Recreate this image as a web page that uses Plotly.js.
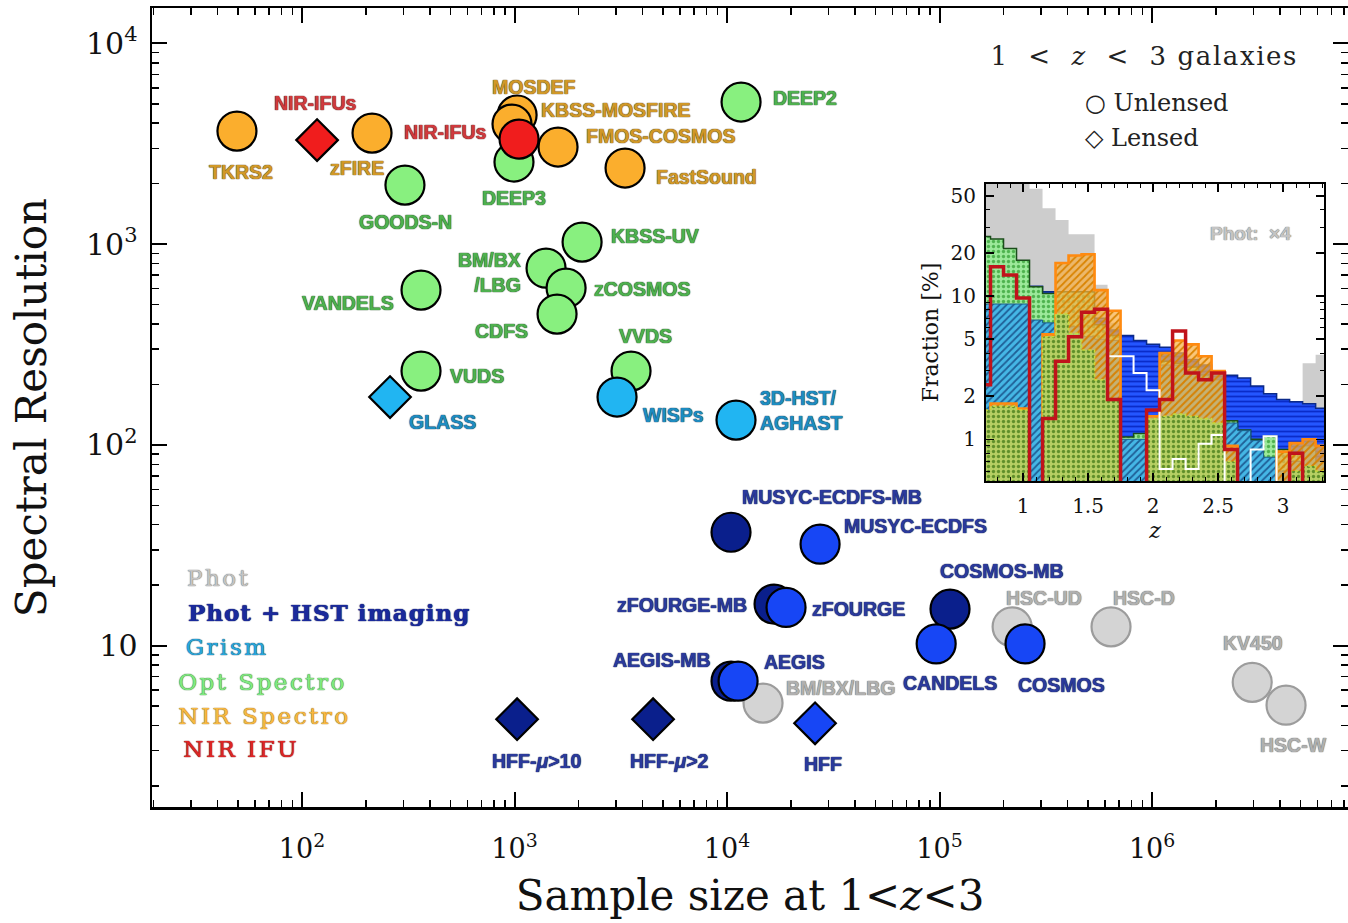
<!DOCTYPE html>
<html><head><meta charset="utf-8">
<script src="https://cdn.plot.ly/plotly-3.0.1.min.js"></script>
<style>body{margin:0;background:#fff}#chart{width:1348px;height:923px}</style>
</head><body><div id="chart"></div>
<script>
// ================= MAIN SCATTER DATA =================
// Phot (grey)
const photLabels = ['BM/BX/LBG','HSC-UD','HSC-D','KV450','HSC-W'];
const photN      = [14770, 219500, 641000, 2960000, 4270000];
const photR      = [5.17, 12.4, 12.4, 6.56, 5.05];
const photLensed = [0,0,0,0,0];
// Phot + HST imaging, medium-band (dark navy)
const hstMBLabels = ['MUSYC-ECDFS-MB','zFOURGE-MB','AEGIS-MB','COSMOS-MB','HFF-<i>μ</i>&gt;10','HFF-<i>μ</i>&gt;2'];
const hstMBN      = [10440, 16640, 10440, 112000, 1028, 4487];
const hstMBR      = [36.7, 16.1, 6.65, 15.2, 4.3, 4.3];
const hstMBLensed = [0,0,0,0,1,1];
// Phot + HST imaging (bright blue)
const hstLabels = ['MUSYC-ECDFS','zFOURGE','AEGIS','CANDELS','COSMOS','HFF'];
const hstN      = [27400, 18950, 11270, 96400, 252500, 25950];
const hstR      = [32.0, 15.5, 6.65, 10.2, 10.2, 4.1];
const hstLensed = [0,0,0,0,0,1];
// Opt Spectro (green)
const optLabels = ['DEEP2','DEEP3','GOODS-N','KBSS-UV','BM/BX<br>/LBG','zCOSMOS','CDFS','VANDELS','VVDS','VUDS'];
const optN      = [11640, 994, 305, 2079, 1407, 1748, 1585, 363, 3533, 363];
const optR      = [5100, 2563, 1968, 1023, 759, 604, 448, 590, 233, 233];
const optLensed = [0,0,0,0,0,0,0,0,0,0];
// NIR Spectro (orange)
const nirLabels = ['TKRS2','zFIRE','MOSDEF','KBSS-MOSFIRE','FMOS-COSMOS','FastSound'];
const nirN      = [49.4, 213.5, 1028, 973, 1602, 3312];
const nirR      = [3656, 3573, 4395, 3963, 3044, 2392];
const nirLensed = [0,0,0,0,0,0];
// Grism (cyan)
const grismLabels = ['GLASS','WISPs','3D-HST/<br>AGHAST'];
const grismN      = [259.5, 3036, 11020];
const grismR      = [173, 173, 132.8];
const grismLensed = [1,0,0];
// NIR IFU (red)
const ifuLabels = ['NIR-IFUs','NIR-IFUs'];
const ifuN      = [117.7, 1050];
const ifuR      = [3296, 3335];
const ifuLensed = [1,0];

// axis ticks
const xTickVals = [100, 1000, 10000, 100000, 1000000];
const xTickText = ['10<sup>2</sup>','10<sup>3</sup>','10<sup>4</sup>','10<sup>5</sup>','10<sup>6</sup>'];
const yTickVals = [10, 100, 1000, 10000];
const yTickText = ['10','10<sup>2</sup>','10<sup>3</sup>','10<sup>4</sup>'];

// ================= INSET HISTOGRAM DATA (fraction %, per dz=0.1 bin) =================
const zBins = [0.7,0.8,0.9,1.0,1.1,1.2,1.3,1.4,1.5,1.6,1.7,1.8,1.9,2.0,2.1,2.2,2.3,2.4,2.5,2.6,2.7,2.8,2.9,3.0,3.1,3.2,3.3];
const fracPhotX4 = [70,70,70,70,56,41,34,27,27,12,6.5,5,4.3,4,3.6,3.3,3.0,2.8,2.6,2.4,2.2,2.0,1.8,1.6,1.5,3.4,3.9];
const fracHST    = [9,10,10,11,11.7,10.7,9.5,9,8.5,7,5.8,5.3,4.9,4.6,4.4,4.0,3.6,3.3,3.0,2.8,2.68,2.36,2.08,1.9,1.83,1.77,1.65];
const fracOpt    = [26,25,21.5,17.8,11.6,10.4,10.7,10.7,10.7,6.3,5.3,1.04,1.1,1.3,3.5,3.4,3.2,2.8,2.5,1.35,1.16,1.0,1.05,0.85,0.8,0.8,0.7];
const fracGrism  = [8.8,8.8,8.8,8.8,6.8,6.5,6.3,6.1,5.2,5.0,4.9,1.0,1.0,1.3,3.3,3.3,3.0,2.8,2.6,1.3,1.15,0.98,0.75,0.6,0.7,0.9,0.7];
const fracNIR    = [1.3,1.78,1.78,1.64,0,5.4,17,19.2,19.6,11,7.9,0,0,1.45,4.0,4.9,4.6,3.8,3.0,0.9,0,0,0,0.82,0.94,1.0,0.9];
const fracOptSub = [1.6,1.7,1.7,1.6,0,5.2,7.5,5.5,4.2,2.6,1.9,0,0,1.4,1.45,1.5,1.45,1.4,1.3,0.7,0,0,0,0,0.6,0.65,0.6];
const fracWhite  = [null,null,null,null,null,null,null,null,null,null,3.8,3.8,2.9,2.2,0.62,0.73,0.62,0.93,1.07,0,0,0.85,1.05,0,null,null,null];
const fracIFU    = [2.4,16,14,9.7,0,1.4,3.5,5.2,7.7,8.1,1.9,0,0,1.6,1.9,5.7,2.9,2.6,2.9,0.85,0,0,0,0,0.8,0,0];
const insetXTicks = [1, 1.5, 2, 2.5, 3];
const insetYTicks = [1, 2, 5, 10, 20, 50];

// ================= LABEL PLACEMENT (pixel offsets: dx right, dy down, anchor) =================
const photPos  = [[21,-15,'left'],[-8,-29,'left'],[0,-29,'left'],[1,-39,'center'],[7,40,'center']];
const hstMBPos = [[9,-35,'left'],[-25,1,'right'],[-18,-21,'right'],[-12,-38,'left'],[19,42,'center'],[16,42,'center']];
const hstPos   = [[22,-18,'left'],[24,2,'left'],[24,-19,'left'],[14,39,'center'],[-9,41,'left'],[8,41,'center']];
const optPos   = [[30,-4,'left'],[0,36,'center'],[1,37,'center'],[27,-6,'left'],[-23,4,'right'],[26,1,'left'],[-27,17,'right'],[-25,13,'right'],[14,-35,'center'],[27,5,'left']];
const nirPos   = [[4,41,'center'],[-15,35,'center'],[17,-28,'center'],[27,-14,'left'],[26,-11,'left'],[29,9,'left']];
const grismPos = [[17,25,'left'],[24,18,'left'],[22,-10,'left']];
const ifuPos   = [[-2,-37,'center'],[-31,-7,'right']];

const groups = [
  {N:photN, R:photR, L:photLabels, lens:photLensed, pos:photPos, fill:'#d4d4d4', edge:'#9c9c9c', txt:'#b0b0b0', sh:'#6e6e6e'},
  {N:hstMBN, R:hstMBR, L:hstMBLabels, lens:hstMBLensed, pos:hstMBPos, fill:'#0a1f8c', edge:'#000000', txt:'#2b3a9c', sh:'#0f1850'},
  {N:hstN, R:hstR, L:hstLabels, lens:hstLensed, pos:hstPos, fill:'#1746f5', edge:'#000000', txt:'#2b3a9c', sh:'#0f1850'},
  {N:optN, R:optR, L:optLabels, lens:optLensed, pos:optPos, fill:'#88f07f', edge:'#000000', txt:'#4fb04f', sh:'#174a17'},
  {N:nirN, R:nirR, L:nirLabels, lens:nirLensed, pos:nirPos, fill:'#fbae2d', edge:'#000000', txt:'#d09828', sh:'#5e400a'},
  {N:grismN, R:grismR, L:grismLabels, lens:grismLensed, pos:grismPos, fill:'#21b5f2', edge:'#000000', txt:'#1e8cc0', sh:'#0b3553'},
  {N:ifuN, R:ifuR, L:ifuLabels, lens:ifuLensed, pos:ifuPos, fill:'#f01d1d', edge:'#000000', txt:'#cf3a3e', sh:'#5e0f0f'}
];

const traces = [];
const annotations = [];
groups.forEach(g => {
  traces.push({
    type:'scatter', mode:'markers', x:g.N, y:g.R, xaxis:'x', yaxis:'y',
    hoverinfo:'skip', showlegend:false,
    marker:{
      symbol:g.lens.map(v => v ? 'diamond' : 'circle'),
      size:g.lens.map(v => v ? 32 : 39),
      color:g.fill, opacity:1,
      line:{color:g.edge, width:2.2}
    }
  });
  g.L.forEach((lab, i) => {
    const p = g.pos[i];
    annotations.push({
      xref:'x', yref:'y', x:Math.log10(g.N[i]), y:Math.log10(g.R[i]),
      text:lab, showarrow:false, xanchor:p[2], yanchor:'middle', align:p[2]==='center'?'center':p[2],
      xshift:p[0], yshift:-p[1],
      font:{family:'Liberation Sans, Arial, sans-serif', size:19.5, weight:700, color:g.txt,
            shadow:`0 0 1px ${g.sh}, 0 0 1px ${g.sh}`}
    });
  });
});

// ---- inset histogram traces ----
const FLOOR = 0.1;
function stepXY(vals, close) {
  const xs = [], ys = [];
  let started = false, firstL = null, lastR = null;
  for (let i = 0; i < zBins.length; i++) {
    const v = vals[i];
    if (v === null) continue;
    const l = zBins[i] - 0.05, r = zBins[i] + 0.05;
    const vv = v > 0 ? v : FLOOR;
    if (!started) { firstL = l; started = true; if (close) { xs.push(l); ys.push(FLOOR); } }
    xs.push(l, r); ys.push(vv, vv);
    lastR = r;
  }
  if (close) { xs.push(lastR, firstL); ys.push(FLOOR, FLOOR); }
  return {xs, ys};
}
function histFill(vals, fill, pat, fg, line, lw, dash) {
  const s = stepXY(vals, true);
  const t = {type:'scatter', mode:'lines', x:s.xs, y:s.ys, xaxis:'x2', yaxis:'y2',
    fill:'toself', fillcolor:fill, hoverinfo:'skip', showlegend:false,
    line:{color:line, width:lw, dash:dash||'solid', shape:'linear'}};
  if (pat) t.fillpattern = {shape:pat, bgcolor:fill, fgcolor:fg, size:5, solidity:0.35};
  return t;
}
function histLine(vals, color, lw) {
  const s = stepXY(vals, false);
  return {type:'scatter', mode:'lines', x:s.xs, y:s.ys, xaxis:'x2', yaxis:'y2',
    hoverinfo:'skip', showlegend:false, line:{color:color, width:lw}};
}
traces.push(histFill(fracPhotX4, '#cdcdcd', null, null, 'rgba(0,0,0,0)', 0));
traces.push(histFill(fracHST, '#2456ff', '-', '#0a2bc8', '#0b2a8a', 1.5));
traces.push(histFill(fracOpt, '#9ce99a', '.', '#4fb34f', '#1b4d1b', 1.5));
traces.push(histFill(fracGrism, '#45b7e6', '/', '#1f5f96', '#1a5f8a', 1));
traces.push(histFill(fracNIR, 'rgba(249,176,70,0.72)', '/', '#d98300', '#ff8a10', 2.6));
traces.push(histFill(fracOptSub, '#b6cf63', '.', '#5f8f2a', '#c9d93a', 1.5, 'dot'));
traces.push(histLine(fracWhite, '#ffffff', 2));
traces.push(histLine(fracIFU, '#c0131b', 3.5));

// ---- minor ticks ----
const minorX = [], minorY = [];
for (let k = 1; k <= 6; k++) for (let m = 2; m <= 9; m++) minorX.push(m * Math.pow(10, k));
for (let k = 0; k <= 4; k++) for (let m = 2; m <= 9; m++) minorY.push(m * Math.pow(10, k));
const insetMinorX = [];
for (let z = 0.8; z < 3.31; z += 0.1) insetMinorX.push(+z.toFixed(2));
const insetMinorY = [0.6,0.7,0.8,0.9,3,4,6,7,8,9,30,40];

// ---- text annotations (legend-like) ----
const serif = 'DejaVu Serif, serif';
function paperX(px) { return (px - 152) / 1196; }
function paperY(py) { return (807 - py) / 799; }
const legendItems = [
  ['Phot', '#c4c4c4', '#7a7a7a', 578],
  ['Phot + HST imaging', '#1a2a9c', '#0c1660', 612],
  ['Grism', '#2aa6da', '#104d70', 647],
  ['Opt Spectro', '#82e882', '#2f7f2f', 682],
  ['NIR Spectro', '#f6b843', '#9a6a10', 716],
  ['NIR IFU', '#dd2626', '#801010', 749]
];
legendItems.forEach(it => annotations.push({
  xref:'paper', yref:'paper', x:paperX(it[0]==='Phot + HST imaging'?195:190), y:paperY(it[3]), xanchor:'left', yanchor:'middle',
  text:it[0], showarrow:false,
  font:{family:serif, size:23, color:it[1], weight:it[0]==='Phot + HST imaging'?700:400,
        shadow:`0 0 1px ${it[2]}, 0 0 1px ${it[2]}`}
}));
annotations.push({xref:'paper', yref:'paper', x:paperX(1006), y:paperY(56), xanchor:'left', yanchor:'middle',
  text:'1\u00a0\u00a0&lt;\u00a0\u00a0<i>z</i>\u00a0\u00a0&lt;\u00a0\u00a03 galaxies', showarrow:false, font:{family:serif, size:26, color:'#222'}});
annotations.push({xref:'paper', yref:'paper', x:paperX(1083), y:paperY(102), xanchor:'left', yanchor:'middle',
  text:'<b>○</b> Unlensed', showarrow:false, font:{family:serif, size:24, color:'#222'}});
annotations.push({xref:'paper', yref:'paper', x:paperX(1083), y:paperY(138), xanchor:'left', yanchor:'middle',
  text:'<b>◇</b> Lensed', showarrow:false, font:{family:serif, size:24, color:'#222'}});
annotations.push({xref:'paper', yref:'paper', x:paperX(1250), y:paperY(234), xanchor:'center', yanchor:'middle',
  text:'Phot:  ×4', showarrow:false, font:{family:'Liberation Sans, Arial, sans-serif', size:19, weight:700, color:'#c4c4c4',
  shadow:'0 0 1px #777, 0 0 1px #777'}});

const layout = {
  width:1348, height:923,
  margin:{l:152, r:0, t:8, b:116},
  paper_bgcolor:'#ffffff', plot_bgcolor:'#ffffff',
  showlegend:false,
  xaxis:{type:'log', range:[1.294, 6.922], domain:[0,1], anchor:'y',
    showline:true, linecolor:'#000', linewidth:2.5, mirror:'allticks',
    ticks:'inside', ticklen:15, tickwidth:2, tickcolor:'#000',
    tickmode:'array', tickvals:xTickVals, ticktext:xTickText,
    tickfont:{family:serif, size:27, color:'#111'}, ticklabelstandoff:16,
    minor:{ticks:'inside', ticklen:7, tickwidth:1.5, tickcolor:'#000', tickmode:'array', tickvals:minorX, showgrid:false},
    showgrid:false, zeroline:false,
    title:{text:'Sample size at 1&lt;<i>z</i>&lt;3', font:{family:serif, size:42, color:'#111'}, standoff:18}},
  yaxis:{type:'log', range:[0.196, 4.176], domain:[0,1], anchor:'x',
    showline:true, linecolor:'#000', linewidth:2.5, mirror:'allticks',
    ticks:'inside', ticklen:15, tickwidth:2, tickcolor:'#000',
    tickmode:'array', tickvals:yTickVals, ticktext:yTickText,
    tickfont:{family:serif, size:30, color:'#111'}, ticklabelstandoff:6,
    minor:{ticks:'inside', ticklen:7, tickwidth:1.5, tickcolor:'#000', tickmode:'array', tickvals:minorY, showgrid:false},
    showgrid:false, zeroline:false,
    title:{text:'Spectral Resolution', font:{family:serif, size:42, color:'#111'}, standoff:26}},
  xaxis2:{range:[0.715, 3.315], domain:[0.6973, 0.98], anchor:'y2',
    showline:true, linecolor:'#000', linewidth:2, mirror:'allticks',
    ticks:'inside', ticklen:8, tickwidth:1.5, tickcolor:'#000',
    tickmode:'array', tickvals:insetXTicks, ticktext:insetXTicks.map(String),
    tickfont:{family:serif, size:20, color:'#111'}, ticklabelstandoff:6,
    minor:{ticks:'inside', ticklen:4, tickwidth:1, tickcolor:'#000', tickmode:'array', tickvals:insetMinorX, showgrid:false},
    showgrid:false, zeroline:false,
    title:{text:'<i>z</i>', font:{family:serif, size:22, color:'#111'}, standoff:0}},
  yaxis2:{type:'log', range:[-0.291, 1.782], domain:[0.408, 0.7797], anchor:'x2',
    showline:true, linecolor:'#000', linewidth:2, mirror:'allticks',
    ticks:'inside', ticklen:8, tickwidth:1.5, tickcolor:'#000',
    tickmode:'array', tickvals:insetYTicks, ticktext:insetYTicks.map(String),
    tickfont:{family:serif, size:20, color:'#111'}, ticklabelstandoff:4,
    minor:{ticks:'inside', ticklen:4, tickwidth:1, tickcolor:'#000', tickmode:'array', tickvals:insetMinorY, showgrid:false},
    showgrid:false, zeroline:false,
    title:{text:'Fraction [%]', font:{family:serif, size:22, color:'#111'}, standoff:6}},
  annotations:annotations
};

Plotly.newPlot('chart', traces, layout, {staticPlot:true, displayModeBar:false}).then(() => {
  const spaced = {'Phot':2.5, 'Phot + HST imaging':1.0, 'Grism':2.5, 'Opt Spectro':2.5, 'NIR Spectro':2.5, 'NIR IFU':2.5};
  document.querySelectorAll('.annotation-text').forEach(el => {
    const t = el.textContent;
    if (spaced[t] !== undefined) el.style.letterSpacing = spaced[t] + 'px';
    else if (t.indexOf('galaxies') >= 0) el.style.letterSpacing = '1.6px';
  });
});
</script>
</body></html>
